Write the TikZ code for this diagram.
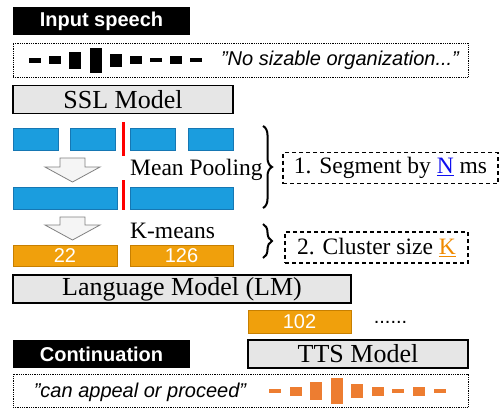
\documentclass[tikz,border=0pt]{standalone}
\usepackage{fontspec}
\setmainfont{Liberation Serif}
\setsansfont{Liberation Sans}
\usetikzlibrary{decorations.pathreplacing}
\definecolor{featblue}{HTML}{1B9DDE}
\definecolor{featedge}{HTML}{1677B3}
\definecolor{tokorange}{HTML}{F0A00C}
\definecolor{tokedge}{HTML}{C77F00}
\definecolor{waveorange}{HTML}{ED7D31}
\definecolor{boxgray}{HTML}{E6E6E6}
\definecolor{ncolor}{HTML}{1010F0}
\definecolor{kcolor}{HTML}{F08A00}
\begin{document}
\begin{tikzpicture}[x=1pt,y=-1pt,
  every node/.style={inner sep=0pt},
  tagbox/.style={fill=black,text=white,font=\sffamily\bfseries\fontsize{20}{24}\selectfont,minimum width=177pt,minimum height=28pt},
  wavebox/.style={draw,line width=0.9pt,dash pattern=on 0.9pt off 0.9pt,minimum width=455pt},
  model/.style={draw,fill=boxgray,line width=1.2pt,font=\fontsize{26}{30}\selectfont,minimum height=28pt},
  feat/.style={draw=featedge,fill=featblue,line width=0.6pt,minimum height=22pt},
  tok/.style={draw=tokedge,fill=tokorange,line width=0.6pt,text=white,font=\sffamily\fontsize{20}{24}\selectfont,minimum height=21pt},
  notebox/.style={draw,line width=1.1pt,dash pattern=on 4pt off 3pt,font=\fontsize{23.5}{28}\selectfont,minimum height=31pt},
  step text/.style={font=\fontsize{23.5}{28}\selectfont,anchor=west},
  hollow/.style={draw=gray,fill=gray!8,line width=0.8pt},
  cut/.style={draw=red,line width=3pt},
  bracket/.style={decorate,decoration={brace,amplitude=9pt},line width=2pt},
  quote/.style={font=\sffamily\itshape\fontsize{20}{24}\selectfont}]
\useasboundingbox (0,0) rectangle (500,408);
\node [tagbox] (inspeech) at (101.5,21) {Input speech};
\node [wavebox,minimum height=34pt] (inwave) at (240.5,60) {};
\foreach \x/\h in {35/5,55/8,75/17,95.5/25,116/13,135.5/8,156/4,176/8,196/4}
  \fill [black] (\x-6,60-\h/2) rectangle (\x+6,60+\h/2);
\node [quote] (intext) at (340,60) {"No sizable organization..."};
\node [model,minimum width=220pt] (ssl) at (123,99.5) {SSL Model};
\node [feat,minimum width=45pt] (fa) at (35.5,139) {};
\node [feat,minimum width=45pt] (fb) at (93,139) {};
\node [feat,minimum width=45pt] (fc) at (152.5,139) {};
\node [feat,minimum width=45pt] (fd) at (211,139) {};
\draw [cut] (123,122) -- (123,156);
\draw [hollow] (60,158) -- (85,158) -- (85,167) -- (100,167) -- (72.5,182) -- (45,167) -- (60,167) -- cycle;
\node [step text] (pool) at (130,170) {Mean Pooling};
\node [feat,minimum width=104pt] (pa) at (65,198) {};
\node [feat,minimum width=103pt] (pb) at (181.5,198) {};
\draw [cut] (123,180) -- (123,210);
\draw [hollow] (60,217) -- (85,217) -- (85,225) -- (100,225) -- (72.5,240) -- (45,225) -- (60,225) -- cycle;
\node [step text] (kmeans) at (130,231) {K-means};
\node [tok,minimum width=104pt] (ta) at (65,255.5) {22};
\node [tok,minimum width=103pt] (tb) at (181.5,255.5) {126};
\draw [bracket] (263,126) -- (263,208);
\node [notebox,minimum width=215pt] (segment) at (390.5,168) {1. Segment by \textcolor{ncolor}{\underline{N}} ms};
\draw [bracket] (263,224) -- (263,258);
\node [notebox,minimum width=183pt] (cluster) at (376.5,247.5) {2. Cluster size \textcolor{kcolor}{\underline{K}}};
\node [model,minimum width=338pt] (lm) at (182,289) {Language Model (LM)};
\node [tok,minimum width=103pt,minimum height=23pt] (tc) at (299.5,321.5) {102};
\node [font=\sffamily\fontsize{20}{24}\selectfont,anchor=base] (more) at (390.5,323) {......};
\node [tagbox] (cont) at (101.5,354) {Continuation};
\node [model,minimum width=220pt] (tts) at (358,354) {TTS Model};
\node [wavebox,minimum height=33pt] (outwave) at (240.5,390.5) {};
\node [quote] (outtext) at (140,392) {"can appeal or proceed"};
\foreach \x/\h in {275/4,295.5/9,316/18,336.5/26,357/14,378/9,398/4,419/9,439.5/4}
  \fill [waveorange] (\x-6,391-\h/2) rectangle (\x+6,391+\h/2);
\end{tikzpicture}
\end{document}
